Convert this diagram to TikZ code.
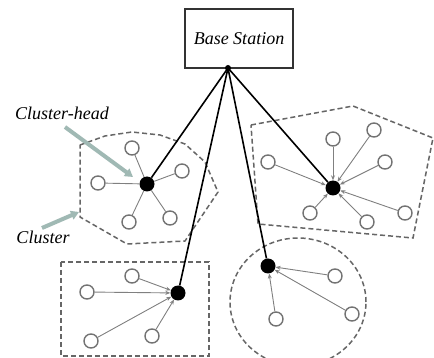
\documentclass[tikz,border=0pt]{standalone}
\usepackage{fontspec}
\setmainfont{Liberation Serif}
\usetikzlibrary{arrows.meta}
\tikzset{
  sensor/.style={circle,draw=black!55,line width=1.4pt,minimum size=14pt,inner sep=0pt},
  chead/.style={circle,fill=black,minimum size=15pt,inner sep=0pt},
  link/.style={draw=black!50,line width=0.9pt},
  alink/.style={link,-{Stealth[length=5pt,width=4pt]}},
  uplink/.style={draw=black,line width=1.6pt},
  border/.style={draw=black!60,line width=1.5pt,dash pattern=on 5pt off 3pt},
  pointer/.style={draw={rgb,255:red,160;green,185;blue,180},line width=4pt,-{Triangle[length=8pt,width=9pt]}},
  lbl/.style={font=\fontsize{18}{20}\selectfont\itshape,inner sep=0pt}
}
\begin{document}
\begin{tikzpicture}[x=1pt,y=-1pt]
\useasboundingbox (0,0) rectangle (434,358);
\clip (0,0) rectangle (434,358);
\fill[white] (0,0) rectangle (434,358);
% base station
\node[draw=black!80,line width=1.3pt,minimum width=108pt,minimum height=59pt,lbl] (bs) at (239,38.5) {Base Station};
\coordinate (hub) at (228,68);
\fill (hub) circle (3pt);
% cluster borders
\draw[border] (80,145) -- (105,136) -- (132,132) -- (160,135) -- (185,144) -- (205,162) -- (218,192) -- (185,241) -- (127,244) -- (80,217) -- cycle;
\draw[border] (251,125) -- (353,106) -- (433,138) -- (413,238) -- (258,224) -- cycle;
\draw[border] (61,262) rectangle (209,356);
\draw[border] (298,302) ellipse (68pt and 64pt);
% cluster heads
\node[chead] (h1) at (147,184) {};
\node[chead] (h2) at (333,188) {};
\node[chead] (h3) at (178,293) {};
\node[chead] (h4) at (268,266) {};
% cluster 1
\node[sensor] (a1) at (132,148) {};
\node[sensor] (a2) at (182,171) {};
\node[sensor] (a3) at (98,183) {};
\node[sensor] (a4) at (129,222) {};
\node[sensor] (a5) at (170,218) {};
\foreach \n in {a1,a2,a3,a4,a5} \draw[link] (\n) -- (h1);
% cluster 2
\node[sensor] (b1) at (333,139) {};
\node[sensor] (b2) at (374,130) {};
\node[sensor] (b3) at (385,162) {};
\node[sensor] (b4) at (268,162) {};
\node[sensor] (b5) at (310,213) {};
\node[sensor] (b6) at (367,222) {};
\node[sensor] (b7) at (405,213) {};
\foreach \n in {b1,b2,b3,b4,b5,b6,b7} \draw[alink] (\n) -- (h2);
% cluster 3
\node[sensor] (c1) at (132,276) {};
\node[sensor] (c2) at (87,292) {};
\node[sensor] (c3) at (91,341) {};
\node[sensor] (c4) at (152,336) {};
\foreach \n in {c1,c2,c3,c4} \draw[alink] (\n) -- (h3);
% cluster 4
\node[sensor] (d1) at (335,276) {};
\node[sensor] (d2) at (352,314) {};
\node[sensor] (d3) at (276,319) {};
\foreach \n in {d1,d2,d3} \draw[alink] (\n) -- (h4);
% uplinks
\foreach \n in {h1,h2,h3,h4} \draw[uplink] (hub) -- (\n);
% labels
\node[lbl] (lch) at (62,113) {Cluster-head};
\node[lbl] (lcl) at (43,237) {Cluster};
\coordinate (pch) at (133,177);
\coordinate (pcl) at (79,212);
\draw[pointer] (65,127) -- (pch);
\draw[pointer] (42,228) -- (pcl);
\end{tikzpicture}
\end{document}
